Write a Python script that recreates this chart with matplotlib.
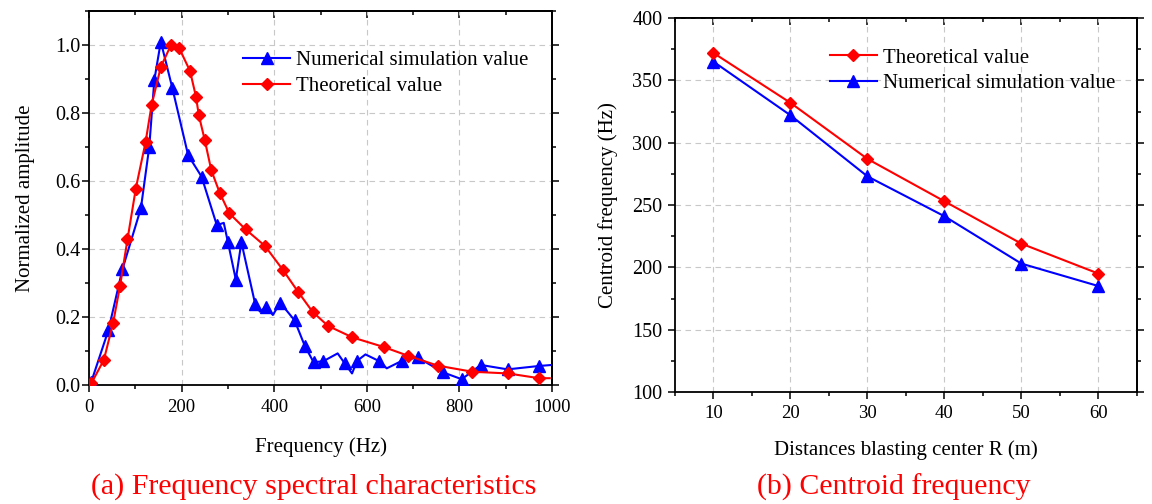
import matplotlib
matplotlib.use('Agg')
import matplotlib.pyplot as plt
from matplotlib.ticker import MultipleLocator, NullFormatter

plt.rcParams['font.family'] = ['Liberation Serif', 'DejaVu Serif']

# (a) spectra -- blue line points, some are only bends of the curve (no marker)
num_freq = [5, 42, 72, 112, 130, 141, 155, 180, 214, 243, 276, 291, 300, 317, 329,
            359, 369, 383, 397, 413, 444, 466, 485, 506, 537, 552, 568, 579, 597,
            627, 643, 677, 710, 765, 805, 846, 904, 972, 1000]
num_amp = [0.01, 0.162, 0.34, 0.52, 0.70, 0.897, 1.01, 0.873, 0.676, 0.613, 0.47,
           0.477, 0.42, 0.31, 0.42, 0.237, 0.216, 0.23, 0.206, 0.242, 0.19, 0.115,
           0.067, 0.07, 0.093, 0.064, 0.034, 0.071, 0.09, 0.07, 0.049, 0.072,
           0.081, 0.037, 0.017, 0.059, 0.046, 0.056, 0.059]
num_unmarked = [291, 369, 397, 537, 568, 597, 643, 1000]

thr_freq = [5, 32, 52, 67, 83, 101, 122, 135, 155, 177, 195, 218, 231, 237, 250,
            264, 282, 303, 338, 380, 419, 451, 483, 516, 569, 636, 689, 753, 828,
            905, 972, 995]
thr_amp = [0.005, 0.074, 0.183, 0.292, 0.428, 0.578, 0.714, 0.823, 0.936, 1.0,
           0.99, 0.924, 0.848, 0.794, 0.72, 0.632, 0.566, 0.505, 0.458, 0.409,
           0.338, 0.275, 0.215, 0.174, 0.14, 0.112, 0.086, 0.057, 0.039, 0.034,
           0.02, 0.02]
thr_unmarked = [995]

# (b) centroid frequency
dist = [10, 20, 30, 40, 50, 60]
cf_theory = [372, 332, 287, 253, 219, 195]
cf_num = [365, 322, 273, 241, 203, 185]

BLUE = '#0000ff'
RED = '#ff0000'
LABEL_FS = 15
LEG_FS = 15


def style_axes(ax, xmaj, xmin, ymaj, ymin, xpad, ypad):
    ax.xaxis.set_major_locator(MultipleLocator(xmaj))
    ax.xaxis.set_minor_locator(MultipleLocator(xmin))
    ax.yaxis.set_major_locator(MultipleLocator(ymaj))
    ax.yaxis.set_minor_locator(MultipleLocator(ymin))
    ax.tick_params(which='major', direction='out', length=5, width=1.1)
    ax.tick_params(which='minor', direction='out', length=3, width=1.1)
    ax.tick_params(axis='x', labelsize=13.5, pad=xpad)
    ax.tick_params(axis='y', labelsize=14.5, pad=ypad)
    for s in ax.spines.values():
        s.set_linewidth(1.3)
    ax.grid(True, which='major', color='#c8c8c8', linestyle=(0, (5, 4)), linewidth=0.8)
    top = ax.secondary_xaxis('top')
    top.xaxis.set_major_locator(MultipleLocator(xmaj))
    top.xaxis.set_minor_locator(MultipleLocator(xmin))
    top.xaxis.set_major_formatter(NullFormatter())
    top.tick_params(which='major', direction='in', length=5, width=1.1)
    top.tick_params(which='minor', direction='in', length=3, width=1.1)
    right = ax.secondary_yaxis('right')
    right.yaxis.set_major_locator(MultipleLocator(ymaj))
    right.yaxis.set_minor_locator(MultipleLocator(ymin))
    right.yaxis.set_major_formatter(NullFormatter())
    right.tick_params(which='major', direction='out', length=5, width=1.1)
    right.tick_params(which='minor', direction='out', length=3, width=1.1)
    for sec in (top, right):
        for s in sec.spines.values():
            s.set_linewidth(1.3)


fig = plt.figure(figsize=(11.52, 5.04), dpi=100)
ax1 = fig.add_axes([0.0773, 0.2361, 0.4019, 0.742])
ax2 = fig.add_axes([0.5859, 0.2222, 0.4010, 0.742])

#
num_marks = [i for i, f in enumerate(num_freq) if f not in num_unmarked]
thr_marks = [i for i, f in enumerate(thr_freq) if f not in thr_unmarked]
ax1.plot(num_freq, num_amp, color=BLUE, lw=1.5, marker='^', ms=8,
         markevery=num_marks, label='Numerical simulation value', zorder=3)
ax1.plot(thr_freq, thr_amp, color=RED, lw=1.5, marker='D', ms=6.5,
         markevery=thr_marks, label='Theoretical value', zorder=4)
ax1.set_xlim(0, 1000)
ax1.set_ylim(0, 1.1)
style_axes(ax1, 200, 100, 0.2, 0.1, xpad=5, ypad=1)
ax1.yaxis.set_major_formatter(plt.FuncFormatter(lambda v, p: '%.1f' % v))
ax1.set_xlabel('Frequency (Hz)', fontsize=LABEL_FS)
ax1.set_ylabel('Normalized amplitude', fontsize=LABEL_FS)
ax1.xaxis.set_label_coords(0.5, -0.14)
ax1.yaxis.set_label_coords(-0.117, 0.5)
ax1.legend(loc='upper left', bbox_to_anchor=(0.333, 0.895), frameon=False,
           fontsize=LEG_FS, handlelength=2.25, handletextpad=0.3, labelspacing=0.33,
           borderpad=0, borderaxespad=0)

#
ax2.plot(dist, cf_theory, color=RED, lw=1.5, marker='D', ms=6.5, label='Theoretical value', zorder=4)
ax2.plot(dist, cf_num, color=BLUE, lw=1.5, marker='^', ms=8,
         label='Numerical simulation value', zorder=3)
ax2.set_xlim(5, 65)
ax2.set_ylim(100, 400)
style_axes(ax2, 10, 5, 50, 25, xpad=4, ypad=4)
ax2.set_xlabel('Distances blasting center R (m)', fontsize=LABEL_FS)
ax2.set_ylabel('Centroid frequency (Hz)', fontsize=LABEL_FS)
ax2.xaxis.set_label_coords(0.5, -0.128)
ax2.yaxis.set_label_coords(-0.124, 0.5)
ax2.legend(loc='upper left', bbox_to_anchor=(0.335, 0.92), frameon=False,
           fontsize=LEG_FS, handlelength=2.25, handletextpad=0.3, labelspacing=0.3,
           borderpad=0, borderaxespad=0)

fig.text(314 / 1152, 1 - 487 / 504, '(a) Frequency spectral characteristics',
         color=RED, fontsize=21.5, ha='center', va='center')
fig.text(894 / 1152, 1 - 487 / 504, '(b) Centroid frequency',
         color=RED, fontsize=21.5, ha='center', va='center')

fig.savefig('out.png', dpi=100)
